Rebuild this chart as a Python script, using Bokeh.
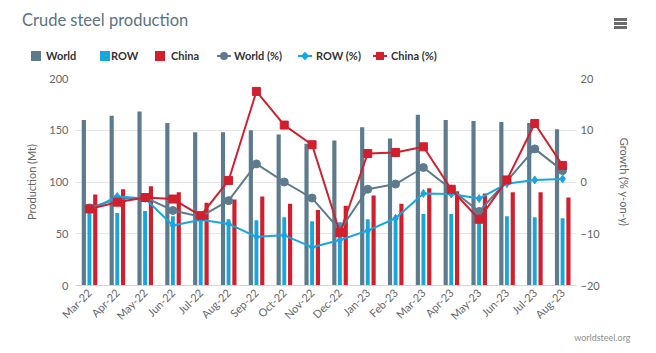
import math
from bokeh.plotting import figure
from bokeh.layouts import column
from bokeh.models import (Range1d, LinearAxis, FactorRange, Title, FixedTicker,
                          ColumnDataSource, Div)
from bokeh.transform import dodge
from bokeh.embed import file_html
from bokeh.resources import INLINE

months = ["Mar-22", "Apr-22", "May-22", "Jun-22", "Jul-22", "Aug-22", "Sep-22",
          "Oct-22", "Nov-22", "Dec-22", "Jan-23", "Feb-23", "Mar-23", "Apr-23",
          "May-23", "Jun-23", "Jul-23", "Aug-23"]
world = [160, 164, 168, 157, 148, 148, 150, 146, 137, 140, 153, 142, 165, 160, 159, 158, 157, 151]
row = [72, 70, 72, 67, 64, 64, 63, 66, 62, 61, 64, 63, 69, 69, 62, 67, 66, 65]
china = [88, 93, 96, 90, 80, 83, 86, 79, 73, 77, 87, 79, 94, 91, 89, 90, 90, 85]
world_pct = [-5.0, -3.3, -3.0, -5.5, -6.7, -3.6, 3.5, 0.0, -3.1, -9.3, -1.4, -0.4, 2.8, -1.4, -5.7, 0.2, 6.4, 2.2]
row_pct = [-5.5, -2.8, -3.2, -8.4, -7.3, -8.1, -10.6, -10.3, -12.6, -11.2, -9.4, -7.0, -2.2, -2.3, -3.2, -0.3, 0.4, 0.6]
china_pct = [-5.2, -3.9, -3.0, -3.3, -6.5, 0.3, 17.5, 11.0, 7.2, -9.8, 5.5, 5.7, 6.8, -1.4, -7.2, 0.4, 11.3, 3.2]
series_names = ["World", "ROW", "China", "World (%)", "ROW (%)", "China (%)"]
left_ticks = [0, 50, 100, 150, 200]
right_ticks = [-20, -10, 0, 10, 20]

C_WORLD = "#5d7b8c"
C_ROW = "#18a6df"
C_CHINA = "#d11f2e"
FONT = "Lato"
HH = 70  # header height

# ---------------- header: title, legend, menu icon ----------------
def abs_box(left, top, w, h, color, extra=""):
    return (f'<div style="position:absolute;left:{left}px;top:{top}px;width:{w}px;'
            f'height:{h}px;background:{color};{extra}"></div>')

def abs_text(left, top, text, size, color, weight="normal", lh=12):
    return (f'<div style="position:absolute;left:{left}px;top:{top}px;white-space:nowrap;'
            f'font-family:{FONT},sans-serif;font-size:{size}px;line-height:{lh}px;'
            f'font-weight:{weight};color:{color};">{text}</div>')

parts = [abs_text(22, 9, "Crude steel production", 16.5, "#5b7286", lh=22)]
# bar-series swatches
swatch_x = [31, 100, 155]
text_x = [46, 111, 171, 234, 316, 391]
for sx, c in zip(swatch_x, [C_WORLD, C_ROW, C_CHINA]):
    parts.append(abs_box(sx, 51, 10, 10, c))
# line-series swatches
line_x = [217, 298, 373]
for lx, c in zip(line_x, [C_WORLD, C_ROW, C_CHINA]):
    parts.append(abs_box(lx, 55, 14, 2, c))
parts.append(abs_box(220, 52, 8, 8, C_WORLD, "border-radius:50%;"))
parts.append(abs_box(302, 53, 6, 6, C_ROW, "transform:rotate(45deg);"))
parts.append(abs_box(376, 52, 8, 8, C_CHINA))
for tx, name in zip(text_x, series_names):
    parts.append(abs_text(tx, 50, name, 11, "#333333", weight="bold"))
# menu icon
for top in (18, 22, 26):
    parts.append(abs_box(614, top, 13, 3, "#6b6b6b"))

header = Div(text=f'<div style="position:relative;width:656px;height:{HH}px;'
                  f'overflow:hidden;">' + "".join(parts) + '</div>',
             width=656, height=HH, margin=0)

# ---------------- main chart ----------------
src = ColumnDataSource(dict(m=months, world=world, row=row, china=china,
                            wp=world_pct, rp=row_pct, cp=china_pct))

p = figure(width=656, height=353 - HH, title=None,
           x_range=FactorRange(factors=months, range_padding=0),
           y_range=Range1d(0, 200), output_backend="svg", toolbar_location=None,
           min_border_left=75, min_border_right=80, min_border_top=8, min_border_bottom=68)
p.extra_y_ranges = {"g": Range1d(-20, 20)}
p.outline_line_color = None

p.vbar(x=dodge("m", -0.2, range=p.x_range), top="world", width=0.15, source=src,
       fill_color=C_WORLD, line_color=None)
p.vbar(x=dodge("m", 0.0, range=p.x_range), top="row", width=0.14, source=src,
       fill_color=C_ROW, line_color=None)
p.vbar(x=dodge("m", 0.21, range=p.x_range), top="china", width=0.15, source=src,
       fill_color=C_CHINA, line_color=None)

p.line(x="m", y="wp", source=src, y_range_name="g", line_color=C_WORLD, line_width=2)
p.scatter(x="m", y="wp", source=src, y_range_name="g", marker="circle", size=8,
          fill_color=C_WORLD, line_color=C_WORLD)
p.line(x="m", y="rp", source=src, y_range_name="g", line_color=C_ROW, line_width=2)
p.scatter(x="m", y="rp", source=src, y_range_name="g", marker="diamond", size=8,
          fill_color=C_ROW, line_color=C_ROW)
p.line(x="m", y="cp", source=src, y_range_name="g", line_color=C_CHINA, line_width=2)
p.scatter(x="m", y="cp", source=src, y_range_name="g", marker="square", size=8,
          fill_color=C_CHINA, line_color=C_CHINA)

p.yaxis.ticker = FixedTicker(ticks=left_ticks)
p.yaxis.axis_label = "Production (Mt)"
ax_r = LinearAxis(y_range_name="g", ticker=FixedTicker(ticks=right_ticks),
                  axis_label="Growth (% y-on-y)")
p.add_layout(ax_r, "right")
for ax in (p.yaxis[0], ax_r):
    ax.axis_line_color = None
    ax.major_tick_line_color = None
    ax.minor_tick_line_color = None
    ax.major_tick_out = 0
    ax.major_tick_in = 0
    ax.minor_tick_out = 0
    ax.major_label_text_color = "#666666"
    ax.major_label_text_font = FONT
    ax.major_label_text_font_size = "11px"
    ax.axis_label_text_color = "#666666"
    ax.axis_label_text_font = FONT
    ax.axis_label_text_font_size = "11px"
    ax.axis_label_text_font_style = "normal"
p.yaxis[0].major_label_standoff = 7
p.yaxis[0].axis_label_standoff = 8
ax_r.major_label_standoff = 4
ax_r.axis_label_standoff = 15

xa = p.xaxis[0]
xa.axis_line_color = "#ccd6eb"
xa.major_tick_line_color = None
xa.minor_tick_line_color = None
xa.major_tick_out = 0
xa.major_tick_in = 0
xa.major_label_orientation = math.pi / 4
xa.major_label_text_color = "#666666"
xa.major_label_text_font = FONT
xa.major_label_text_font_size = "11px"
xa.major_label_standoff = 5

p.xgrid.grid_line_color = None
p.ygrid.ticker = FixedTicker(ticks=left_ticks)
p.ygrid.grid_line_color = "#e6e6e6"

credit = Title(text="worldsteel.org", align="right", offset=-54, text_font=FONT,
               text_font_size="9px", text_font_style="normal", text_color="#909090",
               standoff=0)
p.add_layout(credit, "below")

layout = column(header, p, spacing=0)
open("out.html", "w").write(file_html(layout, INLINE))
